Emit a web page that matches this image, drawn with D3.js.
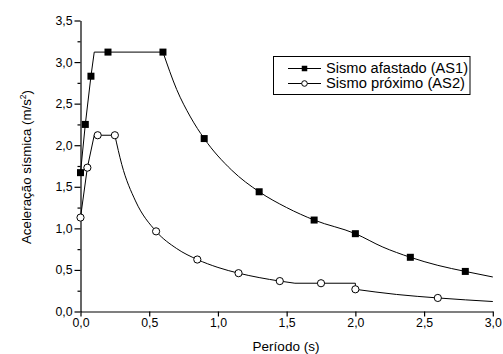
<!DOCTYPE html>
<html><head><meta charset="utf-8">
<script src="https://cdn.jsdelivr.net/npm/d3@7"></script>
<style>body{margin:0;background:#fff}svg{display:block}text{font-family:"Liberation Sans",Arial,sans-serif;fill:#000}</style>
</head><body>
<svg id="c" width="503" height="354"></svg>
<script>
// Series 1: Sismo afastado (AS1) markers
const as1X = [0, 0.035, 0.076, 0.2, 0.6, 0.9, 1.3, 1.7, 2.0, 2.4, 2.8];
const as1Y = [1.67, 2.25, 2.83, 3.12, 3.12, 2.08, 1.44, 1.10, 0.936, 0.652, 0.482];
// AS1 line path: linear part then smooth decay
const as1LineLinX = [0, 0.035, 0.076, 0.1, 0.2, 0.6];
const as1LineLinY = [1.67, 2.25, 2.83, 3.12, 3.12, 3.12];
const as1LineCurX = [0.6, 0.7, 0.8, 0.9, 1.1, 1.3, 1.5, 1.7, 2.0, 2.2, 2.4, 2.6, 2.8, 3.0];
const as1LineCurY = [3.12, 2.67, 2.34, 2.08, 1.70, 1.44, 1.25, 1.10, 0.936, 0.775, 0.652, 0.555, 0.482, 0.415];
// Series 2: Sismo próximo (AS2) markers
const as2X = [0, 0.05, 0.125, 0.25, 0.55, 0.85, 1.15, 1.45, 1.75, 2.0, 2.6];
const as2Y = [1.13, 1.73, 2.12, 2.12, 0.964, 0.625, 0.461, 0.366, 0.34, 0.267, 0.163];
// AS2 line path
const as2LineLinX = [0, 0.05, 0.1, 0.25];
const as2LineLinY = [1.13, 1.73, 2.12, 2.12];
const as2LineCur1X = [0.25, 0.3, 0.4, 0.55, 0.7, 0.85, 1.0, 1.15, 1.3, 1.45, 1.56];
const as2LineCur1Y = [2.12, 1.77, 1.33, 0.964, 0.757, 0.625, 0.53, 0.461, 0.408, 0.366, 0.34];
const as2LineFlatX = [1.56, 2.0, 2.0];
const as2LineFlatY = [0.34, 0.34, 0.267];
const as2LineCur2X = [2.0, 2.3, 2.6, 3.0];
const as2LineCur2Y = [0.267, 0.205, 0.163, 0.12];

const xTicks = [0, 0.5, 1.0, 1.5, 2.0, 2.5, 3.0];
const yTicks = [0, 0.5, 1.0, 1.5, 2.0, 2.5, 3.0, 3.5];
const yMinor = [0.25, 0.75, 1.25, 1.75, 2.25, 2.75, 3.25];
const seriesNames = ["Sismo afastado (AS1)", "Sismo próximo (AS2)"];
const xTitle = "Período (s)";

const svg = d3.select("#c");
const x = d3.scaleLinear().domain([0, 3]).range([80.5, 492.8]);
const y = d3.scaleLinear().domain([0, 3.5]).range([311.5, 20.5]);
const fmt = d => d3.format(".1f")(d).replace(".", ",");

// X axis
const gx = svg.append("g").attr("transform", `translate(0,${y(0)})`)
  .call(d3.axisBottom(x).tickValues(xTicks).tickFormat(fmt).tickSize(5).tickSizeOuter(0).tickPadding(2));
// Y axis
const gy = svg.append("g").attr("transform", `translate(${x(0)},0)`)
  .call(d3.axisLeft(y).tickValues(yTicks).tickFormat(fmt).tickSize(6).tickSizeOuter(0).tickPadding(2));
svg.append("g").attr("transform", `translate(${x(0)},0)`)
  .call(d3.axisLeft(y).tickValues(yMinor).tickFormat("").tickSize(3).tickSizeOuter(0))
  .select(".domain").remove();
svg.selectAll(".tick text").attr("font-size", 12.3).attr("font-family", '"Liberation Sans",Arial,sans-serif');
svg.selectAll(".domain, .tick line").attr("stroke", "#000").attr("stroke-width", 1.2);

// Titles
svg.append("text").attr("x", 286).attr("y", 351).attr("text-anchor", "middle")
  .attr("font-size", 13.5).text(xTitle);
const yt = svg.append("text").attr("transform", "translate(31,167) rotate(-90)")
  .attr("text-anchor", "middle").attr("font-size", 13.3);
yt.append("tspan").text("Aceleração sísmica (m/s");
yt.append("tspan").attr("font-size", 8.5).attr("dy", -5).text("2");
yt.append("tspan").attr("dy", 5).text(")");

const lin = d3.line().x(d => x(d[0])).y(d => y(d[1]));
const smooth = d3.line().x(d => x(d[0])).y(d => y(d[1])).curve(d3.curveMonotoneX);
const zip = (a, b) => a.map((v, i) => [v, b[i]]);
function path(gen, xs, ys) {
  svg.append("path").attr("d", gen(zip(xs, ys))).attr("fill", "none")
    .attr("stroke", "#000").attr("stroke-width", 1);
}
path(lin, as1LineLinX, as1LineLinY);
path(smooth, as1LineCurX, as1LineCurY);
path(lin, as2LineLinX, as2LineLinY);
path(smooth, as2LineCur1X, as2LineCur1Y);
path(lin, as2LineFlatX, as2LineFlatY);
path(smooth, as2LineCur2X, as2LineCur2Y);

const sq = 7;
svg.selectAll("rect.m1").data(zip(as1X, as1Y)).enter().append("rect")
  .attr("x", d => x(d[0]) - sq / 2).attr("y", d => y(d[1]) - sq / 2)
  .attr("width", sq).attr("height", sq).attr("fill", "#000");
svg.selectAll("circle.m2").data(zip(as2X, as2Y)).enter().append("circle")
  .attr("cx", d => x(d[0])).attr("cy", d => y(d[1])).attr("r", 3.6)
  .attr("fill", "#fff").attr("stroke", "#000").attr("stroke-width", 1);

// Legend
const lg = svg.append("g");
lg.append("rect").attr("x", 273.5).attr("y", 56.5).attr("width", 196.5).attr("height", 38)
  .attr("fill", "#fff").attr("stroke", "#000").attr("stroke-width", 1);
const ly = [68.5, 83.5];
const lw = [142, 139];
seriesNames.forEach((name, i) => {
  lg.append("line").attr("x1", 288).attr("x2", 321).attr("y1", ly[i]).attr("y2", ly[i])
    .attr("stroke", "#000").attr("stroke-width", 1);
  if (i === 0) lg.append("rect").attr("x", 304.5 - 2.75).attr("y", ly[i] - 2.75)
    .attr("width", 5.5).attr("height", 5.5).attr("fill", "#000");
  else lg.append("circle").attr("cx", 304.5).attr("cy", ly[i]).attr("r", 2.8)
    .attr("fill", "#fff").attr("stroke", "#000");
  lg.append("text").attr("x", 326).attr("y", ly[i] + 4.8).attr("font-size", 13.8)
    .attr("textLength", lw[i]).attr("lengthAdjust", "spacingAndGlyphs").text(name);
});
</script>
</body></html>
